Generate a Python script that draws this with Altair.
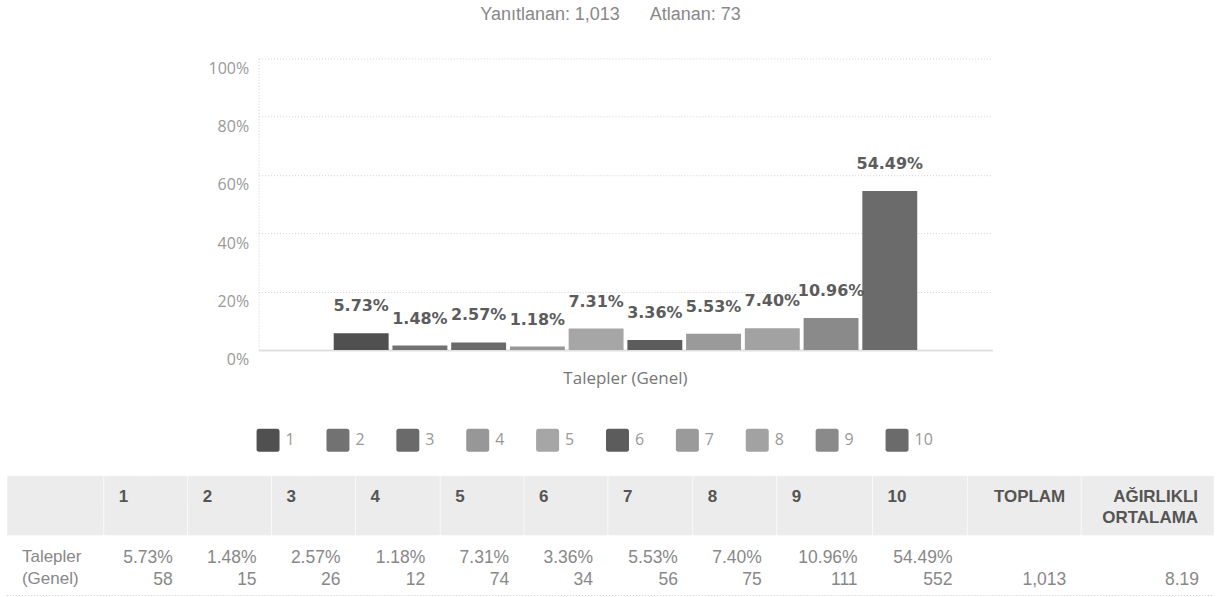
import altair as alt
import pandas as pd

# ---------------- data ----------------
choices = ["1", "2", "3", "4", "5", "6", "7", "8", "9", "10"]
pcts = [5.73, 1.48, 2.57, 1.18, 7.31, 3.36, 5.53, 7.40, 10.96, 54.49]
counts = [58, 15, 26, 12, 74, 34, 56, 75, 111, 552]
answered = 1013
skipped = 73
weighted_avg = 8.19
question = "Talepler (Genel)"
head_right = ["TOPLAM", "AĞIRLIKLI\nORTALAMA"]
row_label = "Talepler\n(Genel)"

# ---------------- styles ----------------
grays = ["#505050", "#727272", "#6a6a6a", "#979797", "#a6a6a6",
         "#5c5c5c", "#9a9a9a", "#a2a2a2", "#8a8a8a", "#6b6b6b"]
# column edges of the table, in pixels, measured from the bar plot's left edge
PLOT_LEFT = 252
col_edges = [0, 97, 181, 265, 349, 434, 518, 602, 687, 771, 867, 962, 1076, 1209]
col_range = [e - PLOT_LEFT for e in col_edges]
rounded_sq = ("M-0.8,-1H0.8A0.2,0.2 0 0 1 1,-0.8V0.8A0.2,0.2 0 0 1 0.8,1"
              "H-0.8A0.2,0.2 0 0 1 -1,0.8V-0.8A0.2,0.2 0 0 1 -0.8,-1Z")

fmt_int = lambda v: f"{v:,}"

bar_df = pd.DataFrame({"question": question, "choice": choices, "pct": pcts, "count": counts})
bar_df["label"] = [f"{p:.2f}%" for p in pcts]

x_enc = alt.X(
    "question:N",
    scale=alt.Scale(paddingInner=0, paddingOuter=0.125),
    axis=alt.Axis(labels=True, ticks=False, grid=False, title=None,
                  labelFont="Open Sans", labelFontSize=17, labelAngle=0,
                  labelColor="#777777", labelPadding=21,
                  domainColor="#e0e0e0", domainWidth=2),
)
xo_enc = alt.XOffset("choice:N", sort=choices,
                     scale=alt.Scale(paddingInner=0.065, paddingOuter=0.03))
y_enc = alt.Y(
    "pct:Q", scale=alt.Scale(domain=[0, 100]),
    axis=alt.Axis(values=list(range(0, 101, 10)),
                  labelExpr="datum.value % 20 === 0 ? datum.value + '%' : ''",
                  ticks=False, grid=True, gridColor="#d2d2d2", gridDash=[1, 2],
                  domainColor="#d2d2d2", domainDash=[1, 2],
                  labelFont="Open Sans", labelFontSize=16, labelColor="#999999",
                  labelPadding=10, labelOffset=10, title=None),
)

bars = alt.Chart(bar_df).mark_bar().encode(
    x=x_enc, xOffset=xo_enc, y=y_enc,
    color=alt.Color("choice:N", sort=choices,
                    scale=alt.Scale(domain=choices, range=grays),
                    legend=alt.Legend(orient="none", legendX=-2, legendY=371,
                                      direction="horizontal", columns=10,
                                      symbolType=rounded_sq, symbolSize=529,
                                      symbolStrokeWidth=0, symbolOpacity=1,
                                      labelFont="Open Sans", labelFontSize=16,
                                      labelColor="#999999", labelOffset=6,
                                      columnPadding=30, padding=0, title=None)),
)
labels = alt.Chart(bar_df).mark_text(
    font="DejaVu Sans", fontWeight="bold", fontSize=16, color="#5c5c5c",
    baseline="middle", dy=-27,
).encode(x="question:N", xOffset=alt.XOffset("choice:N", sort=choices),
         y="pct:Q", text="label:N")

top = alt.layer(bars, labels).properties(width=735, height=292)

# ---------------- table ----------------
xs = alt.Scale(domain=list(range(len(col_edges))), range=col_range)
ys = alt.Scale(type="band", domain=["header", "data"], paddingInner=0, paddingOuter=0)

head_cells = pd.DataFrame({"c0": list(range(13)), "row": ["header"] * 13})
head_rect = alt.Chart(head_cells).mark_rect(
    color="#ececec", stroke="white", strokeWidth=1, strokeDash=[1, 1]
).transform_calculate(c1="datum.c0 + 1").encode(
    x=alt.X("c0:Q", scale=xs, axis=None),
    x2="c1:Q",
    y=alt.Y("row:N", scale=ys, axis=None),
)

rule_df = pd.DataFrame({"c0": [0], "c1": [13], "row": ["data"]})
bottom_rule = alt.Chart(rule_df).mark_rule(color="#d0d0d0", strokeDash=[1, 2]).encode(
    x=alt.X("c0:Q", scale=xs, axis=None), x2="c1:Q",
    y=alt.Y("row:N", scale=ys, axis=None, bandPosition=1),
)

head_l_df = pd.DataFrame({"c": list(range(1, 11)), "t": choices, "row": "header"})
head_l = alt.Chart(head_l_df).mark_text(
    font="Liberation Sans", fontWeight="bold", fontSize=17, color="#555555",
    align="left", baseline="top", dx=15, dy=13, lineBreak="\n", lineHeight=21,
).encode(
    x=alt.X("c:Q", scale=xs, axis=None),
    y=alt.Y("row:N", scale=ys, axis=None, bandPosition=0),
    text="t:N",
)

head_r_df = pd.DataFrame({"c": [11, 12], "t": head_right, "row": "header"})
head_r = alt.Chart(head_r_df).mark_text(
    font="Liberation Sans", fontWeight="bold", fontSize=17, color="#555555",
    align="right", baseline="top", dx=-16, dy=13, lineBreak="\n", lineHeight=21,
).transform_calculate(e="datum.c + 1").encode(
    x=alt.X("e:Q", scale=xs, axis=None),
    y=alt.Y("row:N", scale=ys, axis=None, bandPosition=0),
    text="t:N",
)

rowlab_df = pd.DataFrame({"c": [0], "t": [row_label], "row": ["data"]})
rowlab = alt.Chart(rowlab_df).mark_text(
    font="Liberation Sans", fontSize=17, color="#888888",
    align="left", baseline="top", dx=15, dy=13, lineBreak="\n", lineHeight=22,
).encode(
    x=alt.X("c:Q", scale=xs, axis=None),
    y=alt.Y("row:N", scale=ys, axis=None, bandPosition=0),
    text="t:N",
)

pct_df = pd.DataFrame({"c": list(range(1, 11)), "t": bar_df["label"], "row": "data"})
pct_text = alt.Chart(pct_df).mark_text(
    font="Liberation Sans", fontSize=17.5, color="#888888",
    align="right", baseline="top", dx=-15, dy=13,
).transform_calculate(e="datum.c + 1").encode(
    x=alt.X("e:Q", scale=xs, axis=None),
    y=alt.Y("row:N", scale=ys, axis=None, bandPosition=0),
    text="t:N",
)

cnt_df = pd.DataFrame({
    "c": list(range(1, 13)),
    "t": [fmt_int(v) for v in counts] + [fmt_int(answered), f"{weighted_avg:.2f}"],
    "row": "data",
})
cnt_text = alt.Chart(cnt_df).mark_text(
    font="Liberation Sans", fontSize=17.5, color="#888888",
    align="right", baseline="top", dx=-15, dy=35,
).transform_calculate(e="datum.c + 1").encode(
    x=alt.X("e:Q", scale=xs, axis=None),
    y=alt.Y("row:N", scale=ys, axis=None, bandPosition=0),
    text="t:N",
)

table = alt.layer(head_rect, bottom_rule, head_l, head_r, rowlab, pct_text, cnt_text
                  ).properties(width=col_range[-1], height=120)

title_text = f"Yanıtlanan: {fmt_int(answered)}" + "\u00a0" * 6 + f"Atlanan: {skipped}"

chart = alt.vconcat(top, table, spacing=88).properties(
    title=alt.Title(text=title_text, font="Liberation Sans", fontSize=18,
                    fontWeight="normal", color="#888888", anchor="middle", offset=34),
    padding={"left": 6, "top": 6, "right": 7, "bottom": 0},
    background="white",
).configure_view(strokeWidth=0)

chart.save("out.html", embed_options={"renderer": "svg", "actions": False})
